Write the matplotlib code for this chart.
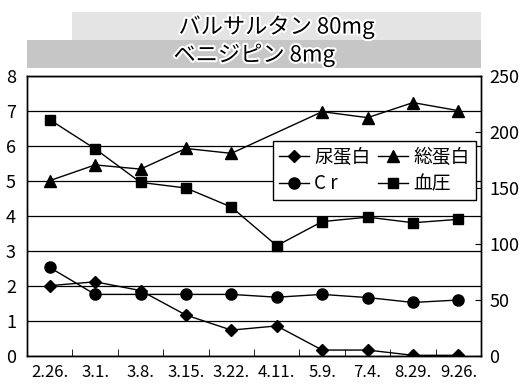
import matplotlib
matplotlib.use("Agg")
import matplotlib.pyplot as plt
import matplotlib.patheffects as pe
from matplotlib.patches import Rectangle
import numpy as np

# data
dates = ["2.26.", "3.1.", "3.8.", "3.15.", "3.22.", "4.11.", "5.9.", "7.4.", "8.29.", "9.26."]
nyo_tanpaku = [2.01, 2.12, 1.87, 1.17, 0.74, 0.86, 0.17, 0.17, 0.02, 0.02]
cr = [2.53, 1.76, 1.76, 1.76, 1.76, 1.68, 1.76, 1.67, 1.53, 1.60]
so_tanpaku = [5.01, 5.46, 5.34, 5.93, 5.79, np.nan, 6.98, 6.81, 7.24, 7.01]
ketsuatsu = [211, 185, 155, 150, 133, 98.5, 120, 124, 119, 122]

plt.rcParams["font.family"] = ["Noto Sans CJK JP", "DejaVu Sans"]

fig = plt.figure(figsize=(5.19, 3.85), dpi=100)
ax = fig.add_axes([0.052, 0.0753, 0.875, 0.7273])
ax2 = ax.twinx()

x = np.arange(len(dates))
ls = dict(color="black", lw=1.0)
h1, = ax.plot(x, nyo_tanpaku, marker="D", ms=6.5, **ls)
h2, = ax.plot(x, cr, marker="o", ms=8, **ls)
tp = np.array(so_tanpaku)
ok = ~np.isnan(tp)
h3, = ax.plot(x[ok], tp[ok], marker="^", ms=8.5, **ls)
h4, = ax2.plot(x, ketsuatsu, marker="s", ms=7, **ls)

ax.set_xlim(-0.5, len(dates) - 0.5)
ax.set_ylim(0, 8)
ax.set_yticks(range(0, 9))
ax.grid(axis="y", color="black", lw=0.9)
ax.set_axisbelow(True)
ax2.set_ylim(0, 250)
ax2.set_yticks(range(0, 251, 50))

ax.set_xticks(x)
ax.set_xticklabels(dates, fontsize=12)
ax.set_xticks(np.arange(0.5, len(dates) - 1, 1), minor=True)
ax.tick_params(axis="x", which="major", length=0, pad=6)
ax.tick_params(axis="x", which="minor", direction="in", length=5, color="black")
ax.tick_params(axis="y", length=0, pad=8, labelsize=13)
ax2.tick_params(axis="y", direction="in", length=4, pad=6, labelsize=13)

for a in (ax, ax2):
    for s in a.spines.values():
        s.set_color("black")
        s.set_linewidth(1.0)

leg = ax.legend([h1, h2, h3, h4], ["尿蛋白", "C r", "総蛋白", "血圧"], ncol=2,
                loc="upper left", bbox_to_anchor=(0.542, 0.768), fontsize=13.5,
                frameon=True, fancybox=False, edgecolor="black", framealpha=1,
                handlelength=1.6, handletextpad=0.3, columnspacing=0.4,
                borderpad=0.3, labelspacing=0.3, borderaxespad=0)
leg.get_frame().set_linewidth(1.0)
leg.set_zorder(5)
ax.set_zorder(ax2.get_zorder() + 1)
ax.patch.set_visible(False)

# title bands
fig.add_artist(Rectangle((0.139, 0.896), 0.788, 0.073, transform=fig.transFigure,
                         facecolor="#e4e4e4", edgecolor="none"))
fig.add_artist(Rectangle((0.052, 0.823), 0.875, 0.073, transform=fig.transFigure,
                         facecolor="#c6c6c6", edgecolor="none"))
halo = [pe.withStroke(linewidth=3, foreground="white")]
fig.text(0.533, 0.930, "バルサルタン 80mg", ha="center", va="center", fontsize=16,
         path_effects=halo)
fig.text(0.49, 0.857, "ベニジピン 8mg", ha="center", va="center", fontsize=16,
         path_effects=halo)

fig.savefig("out.png", dpi=100)
